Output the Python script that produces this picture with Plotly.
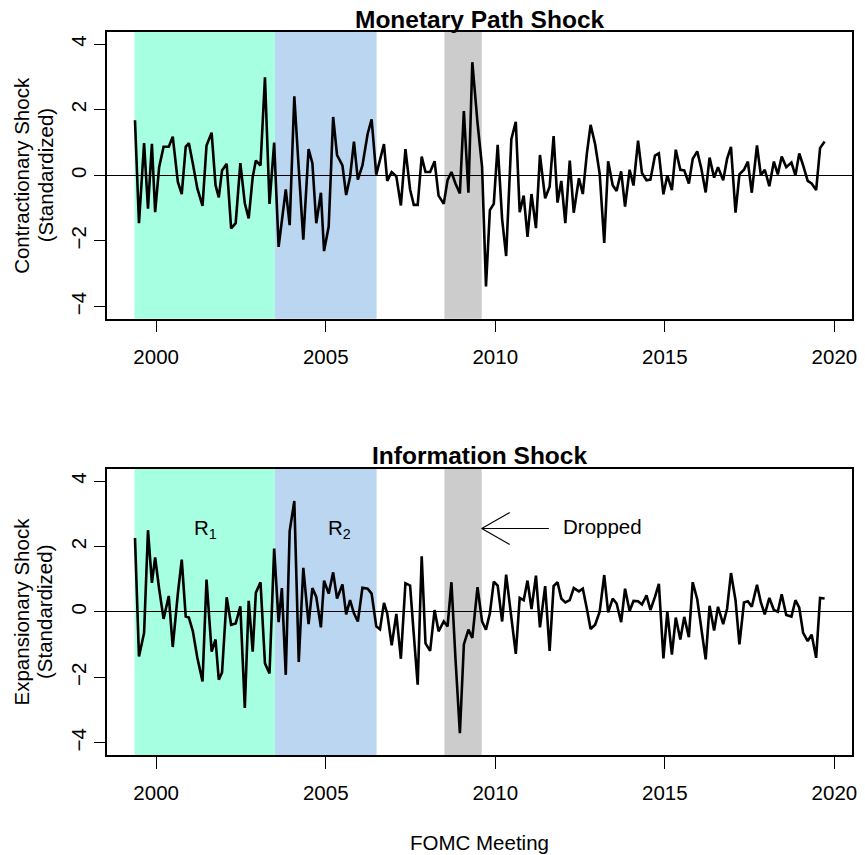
import pandas as pd
import plotly.graph_objects as go

# Scheduled FOMC meetings, May 1999 - Sep 2019
meeting_dates = [
    "1999-05-18", "1999-06-30", "1999-08-24", "1999-10-05", "1999-11-16", "1999-12-21",
    "2000-02-02", "2000-03-21", "2000-05-16", "2000-06-28", "2000-08-22", "2000-10-03", "2000-11-15", "2000-12-19",
    "2001-01-31", "2001-03-20", "2001-05-15", "2001-06-27", "2001-08-21", "2001-10-02", "2001-11-06", "2001-12-11",
    "2002-01-30", "2002-03-19", "2002-05-07", "2002-06-26", "2002-08-13", "2002-09-24", "2002-11-06", "2002-12-10",
    "2003-01-29", "2003-03-18", "2003-05-06", "2003-06-25", "2003-08-12", "2003-09-16", "2003-10-28", "2003-12-09",
    "2004-01-28", "2004-03-16", "2004-05-04", "2004-06-30", "2004-08-10", "2004-09-21", "2004-11-10", "2004-12-14",
    "2005-02-02", "2005-03-22", "2005-05-03", "2005-06-30", "2005-08-09", "2005-09-20", "2005-11-01", "2005-12-13",
    "2006-01-31", "2006-03-28", "2006-05-10", "2006-06-29", "2006-08-08", "2006-09-20", "2006-10-25", "2006-12-12",
    "2007-01-31", "2007-03-21", "2007-05-09", "2007-06-28", "2007-08-07", "2007-09-18", "2007-10-31", "2007-12-11",
    "2008-01-30", "2008-03-18", "2008-04-30", "2008-06-25", "2008-08-05", "2008-09-16", "2008-10-29", "2008-12-16",
    "2009-01-28", "2009-03-18", "2009-04-29", "2009-06-24", "2009-08-12", "2009-09-23", "2009-11-04", "2009-12-16",
    "2010-01-27", "2010-03-16", "2010-04-28", "2010-06-23", "2010-08-10", "2010-09-21", "2010-11-03", "2010-12-14",
    "2011-01-26", "2011-03-15", "2011-04-27", "2011-06-22", "2011-08-09", "2011-09-21", "2011-11-02", "2011-12-13",
    "2012-01-25", "2012-03-13", "2012-04-25", "2012-06-20", "2012-08-01", "2012-09-13", "2012-10-24", "2012-12-12",
    "2013-01-30", "2013-03-20", "2013-05-01", "2013-06-19", "2013-07-31", "2013-09-18", "2013-10-30", "2013-12-18",
    "2014-01-29", "2014-03-19", "2014-04-30", "2014-06-18", "2014-07-30", "2014-09-17", "2014-10-29", "2014-12-17",
    "2015-01-28", "2015-03-18", "2015-04-29", "2015-06-17", "2015-07-29", "2015-09-17", "2015-10-28", "2015-12-16",
    "2016-01-27", "2016-03-16", "2016-04-27", "2016-06-15", "2016-07-27", "2016-09-21", "2016-11-02", "2016-12-14",
    "2017-02-01", "2017-03-15", "2017-05-03", "2017-06-14", "2017-07-26", "2017-09-20", "2017-11-01", "2017-12-13",
    "2018-01-31", "2018-03-21", "2018-05-02", "2018-06-13", "2018-08-01", "2018-09-26", "2018-11-08", "2018-12-19",
    "2019-01-30", "2019-03-20", "2019-05-01", "2019-06-19", "2019-07-31", "2019-09-18",
]

# Standardized monetary (path) shock, contractionary positive
path_shock = [
    1.68, -1.46, 0.98, -1.02, 0.96, -1.12, 0.25, 0.87, 0.87, 1.18,
    -0.20, -0.57, 0.87, 0.98, 0.35, -0.40, -0.93, 0.91, 1.30, -0.30,
    -0.67, 0.15, 0.35, -1.62, -1.46, 0.37, -0.85, -1.31, -0.05, 0.45,
    0.30, 2.99, -0.87, 1.00, -2.18, -1.30, -0.43, -1.52, 2.41, 0.20,
    -1.96, 0.80, 0.37, -1.46, -0.53, -2.31, -1.56, 1.78, 0.62, 0.30,
    -0.60, -0.05, 1.03, -0.13, 0.30, 1.26, 1.71, 0.02, 0.45, 0.95,
    -0.17, 0.10, -0.03, -0.92, 0.80, -0.43, -0.90, -0.90, 0.57, 0.10,
    0.10, 0.43, -0.62, -0.87, -0.15, 0.10, -0.25, -0.55, 1.96, -0.53,
    3.45, 1.60, 0.25, -3.39, -1.06, -0.87, 0.93, -1.34, -2.46, 1.10,
    1.63, -1.12, -0.62, -1.88, -0.57, -1.61, 0.62, -0.70, -0.35, 1.20,
    -0.83, -0.17, -1.46, 0.45, -1.14, -0.09, -0.57, 0.65, 1.54, 0.95,
    0.05, -2.06, 0.43, -0.30, -0.48, 0.12, -0.95, 0.17, -0.31, 1.06,
    0.07, -0.15, -0.13, 0.60, 0.67, -0.58, 0.00, -0.45, 0.78, 0.17,
    0.15, -0.25, 0.50, 0.73, 0.23, -0.52, 0.54, -0.07, 0.25, -0.15,
    0.50, 0.87, -1.14, 0.03, 0.17, 0.42, -0.53, 0.91, 0.00, 0.17,
    -0.33, 0.42, 0.03, 0.57, 0.25, 0.39, 0.00, 0.67, 0.30, -0.17,
    -0.25, -0.45, 0.83, 1.03,
]

# Standardized information shock, expansionary positive
info_shock = [
    2.26, -1.36, -0.64, 2.50, 0.89, 1.67, 0.71, -0.21, 0.49, -1.07,
    0.56, 1.60, -0.14, -0.17, -0.59, -1.40, -2.12, 0.99, -1.21, -0.84,
    -2.07, -1.85, 0.45, -0.39, -0.35, 0.17, -2.93, 0.34, -1.21, 0.59,
    0.91, -1.57, -1.88, 1.94, -0.31, 0.73, -1.92, 2.47, 3.39, -1.53,
    1.35, -0.37, 0.73, 0.46, -0.47, 0.96, 0.56, 1.21, 0.41, 0.84,
    -0.07, 0.36, -0.04, -0.29, 0.74, 0.71, 0.56, -0.44, -0.53, 0.28,
    -0.04, -1.02, -0.06, -1.43, 0.88, 0.81, -0.69, -2.22, 1.70, -0.96,
    -1.19, 0.06, -0.59, -0.29, -0.44, 0.91, -1.40, -3.70, -0.99, -0.54,
    -0.79, 0.76, -0.29, -0.54, -0.04, 0.93, 0.81, -0.29, 1.14, -0.09,
    -1.28, 0.43, 0.36, 0.96, 0.09, 1.11, -0.47, 0.79, -1.19, 0.79,
    0.91, 0.41, 0.29, 0.36, 0.73, 0.63, 0.71, 0.11, -0.52, -0.39,
    0.01, 1.13, -0.01, 0.41, 0.26, -0.31, 0.71, 0.03, 0.34, 0.33,
    0.23, 0.51, 0.06, 0.46, 0.86, -1.42, 0.01, -1.30, -0.17, -0.84,
    -0.15, -0.77, 0.91, 0.39, -0.54, -1.45, 0.19, -0.57, 0.16, -0.37,
    0.10, 1.19, 0.36, -0.99, 0.29, 0.33, 0.16, 0.83, 0.29, -0.07,
    0.43, 0.06, 0.01, 0.54, -0.09, -0.14, 0.36, 0.13, -0.64, -0.89,
    -0.69, -1.40, 0.43, 0.41,
]

# Sample periods (decimal years) and their fills
region_names = ["R1", "R2", "Dropped"]
region_start = [1999.36, 2003.5, 2008.5]
region_end = [2003.5, 2006.5, 2009.6]
region_colors = ["#A6FFE0", "#BAD6F0", "#CCCCCC"]

x_ticks = [2000, 2005, 2010, 2015, 2020]
y_ticks = [-4, -2, 0, 2, 4]


def decimal_year(d):
    ts = pd.Timestamp(d)
    start = pd.Timestamp(year=ts.year, month=1, day=1)
    end = pd.Timestamp(year=ts.year + 1, month=1, day=1)
    return ts.year + (ts - start) / (end - start)


t = [decimal_year(d) for d in meeting_dates]

FONT = "Liberation Sans, Arial, Helvetica, sans-serif"
FS = 20.5
TITLE_FS = 24.5

fig = go.Figure()
fig.add_trace(go.Scatter(x=t, y=path_shock, mode="lines", xaxis="x", yaxis="y",
                         line=dict(color="black", width=2.6), showlegend=False))
fig.add_trace(go.Scatter(x=t, y=info_shock, mode="lines", xaxis="x2", yaxis="y2",
                         line=dict(color="black", width=2.6), showlegend=False))

shapes = []
for xr, yr in (("x", "y"), ("x2", "y2")):
    for x0, x1, c in zip(region_start, region_end, region_colors):
        shapes.append(dict(type="rect", xref=xr, yref=f"{yr} domain", x0=x0, x1=x1,
                           y0=0, y1=1, fillcolor=c, line=dict(width=0), layer="below"))

# Arrow pointing at the dropped window
arrow_tail, arrow_tip, arrow_y = 2011.58, 2009.6, 2.55
shapes.append(dict(type="line", xref="x2", yref="y2", x0=arrow_tail, x1=arrow_tip,
                   y0=arrow_y, y1=arrow_y, line=dict(color="black", width=1.1)))
for dy in (16, -16):
    shapes.append(dict(type="line", xref="x2", yref="y2", xsizemode="pixel", ysizemode="pixel",
                       xanchor=arrow_tip, yanchor=arrow_y, x0=0, x1=28, y0=0, y1=dy,
                       line=dict(color="black", width=1.1)))

top_dom = [0.6035, 1.0]
bot_dom = [0.0, 0.3956]

annotations = [
    dict(text="<b>Monetary Path Shock</b>", xref="paper", yref="paper", x=0.5, y=top_dom[1],
         yanchor="middle", yshift=13, showarrow=False,
         font=dict(size=TITLE_FS, family=FONT, color="black")),
    dict(text="<b>Information Shock</b>", xref="paper", yref="paper", x=0.5, y=bot_dom[1],
         yanchor="middle", yshift=13, showarrow=False,
         font=dict(size=TITLE_FS, family=FONT, color="black")),
    dict(text="FOMC Meeting", xref="paper", yref="paper", x=0.5, y=0, yanchor="middle",
         yshift=-87, showarrow=False, font=dict(size=FS, family=FONT, color="black")),
    dict(text="R<sub>1</sub>", xref="x2", yref="y2", x=2001.45, y=2.55, showarrow=False,
         font=dict(size=FS, family=FONT, color="black")),
    dict(text="R<sub>2</sub>", xref="x2", yref="y2", x=2005.4, y=2.55, showarrow=False,
         font=dict(size=FS, family=FONT, color="black")),
    dict(text="Dropped", xref="x2", yref="y2", x=2013.15, y=2.6, showarrow=False,
         font=dict(size=FS, family=FONT, color="black")),
]
for dom, l1 in ((top_dom, "Contractionary Shock"), (bot_dom, "Expansionary Shock")):
    mid = (dom[0] + dom[1]) / 2
    for txt, shift in ((l1, -85.5), ("(Standardized)", -62)):
        annotations.append(dict(text=txt, xref="paper", yref="paper", x=0, y=mid,
                                xanchor="center", yanchor="middle", xshift=shift,
                                textangle=-90, showarrow=False,
                                font=dict(size=FS, family=FONT, color="black")))

xaxis_common = dict(range=[1998.55, 2020.52], tickvals=x_ticks, ticks="outside", ticklen=12,
                    tickwidth=1.3, tickcolor="black", showline=True, linecolor="black",
                    linewidth=1.6, mirror=True, showgrid=False, zeroline=False,
                    ticklabelstandoff=7,
                    tickfont=dict(size=FS, family=FONT, color="black"))
yaxis_common = dict(range=[-4.37, 4.37], tickvals=y_ticks, ticks="outside", ticklen=11,
                    tickwidth=1.3, tickcolor="black", showline=True, linecolor="black",
                    linewidth=1.6, mirror=True, showgrid=False, zeroline=True,
                    zerolinecolor="black", zerolinewidth=1, tickangle=-90,
                    tickfont=dict(size=FS, family=FONT, color="black"))

fig.update_layout(
    width=865, height=855,
    margin=dict(l=107, r=8, t=32, b=100),
    paper_bgcolor="white", plot_bgcolor="white",
    font=dict(family=FONT, color="black"),
    xaxis=dict(**xaxis_common, anchor="y"),
    yaxis=dict(**yaxis_common, domain=top_dom, anchor="x"),
    xaxis2=dict(**xaxis_common, anchor="y2"),
    yaxis2=dict(**yaxis_common, domain=bot_dom, anchor="x2"),
    shapes=shapes,
    annotations=annotations,
)

fig.write_html("out.html")
